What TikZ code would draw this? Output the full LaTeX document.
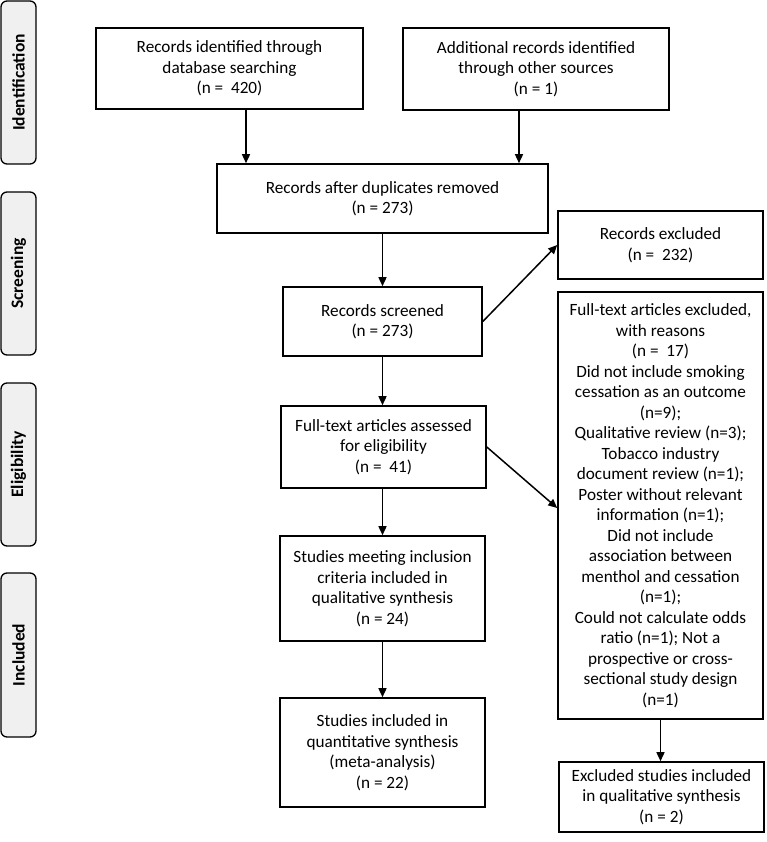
\documentclass[tikz,border=0pt]{standalone}
\usepackage{fontspec}
\setmainfont{Carlito}
\usetikzlibrary{arrows.meta}
\definecolor{sidefill}{HTML}{F0F0F0}
\begin{document}
\begin{tikzpicture}[x=1pt,y=-1pt,
  box/.style={draw=black,line width=1.6pt,inner sep=0pt,align=center,
    font=\fontsize{17.2}{20.5}\selectfont},
  side/.style={draw=black,line width=1.3pt,fill=sidefill,rounded corners=6pt,
    inner sep=0pt,minimum width=35pt},
  sidetext/.style={rotate=90,font=\fontsize{17.5}{19}\selectfont\bfseries},
  arr/.style={line width=1.5pt,-{Triangle[width=8pt,length=9pt]}}]
\useasboundingbox (0,0) rectangle (766,842);
% phase labels
\node[side,minimum height=163pt] (sid) at (18.5,82.5) {};
\node[sidetext] (tid) at (sid.center) {Identification};
\node[side,minimum height=163pt] (ssc) at (18.5,273.5) {};
\node[sidetext] (tsc) at (ssc.center) {Screening};
\node[side,minimum height=163pt] (sel) at (18.5,464.5) {};
\node[sidetext] (tel) at (sel.center) {Eligibility};
\node[side,minimum height=164pt] (sin) at (18.5,655) {};
\node[sidetext] (tin) at (sin.center) {Included};
% boxes
\node[box,minimum width=267pt,minimum height=81pt] (b1) at (229.5,68.5)
  {Records identified through\\database searching\\(n =~~420)};
\node[box,minimum width=266pt,minimum height=82pt] (b2) at (536,69)
  {Additional records identified\\through other sources\\(n = 1)};
\node[box,minimum width=331pt,minimum height=69pt] (b3) at (382.5,198.5)
  {Records after duplicates removed\\(n = 273)};
\node[box,minimum width=205pt,minimum height=68pt] (b4) at (660.5,245)
  {Records excluded\\(n =~~232)};
\node[box,minimum width=199pt,minimum height=69pt] (b5) at (382.5,321.5)
  {Records screened\\(n = 273)};
\node[box,minimum width=205pt,minimum height=427pt] (b6) at (660.5,505.5)
  {Full-text articles excluded,\\with reasons\\(n =~~17)\\Did not include smoking\\cessation as an outcome\\(n=9);\\Qualitative review (n=3);\\Tobacco industry\\document review (n=1);\\Poster without relevant\\information (n=1);\\Did not include\\association between\\menthol and cessation\\(n=1);\\Could not calculate odds\\ratio (n=1); Not a\\prospective or cross-\\sectional study design\\(n=1)};
\node[box,minimum width=205pt,minimum height=82pt] (b7) at (383.5,447)
  {Full-text articles assessed\\for eligibility\\(n =~~41)};
\node[box,minimum width=205pt,minimum height=105pt] (b8) at (382.5,588.5)
  {Studies meeting inclusion\\criteria included in\\qualitative synthesis\\(n = 24)};
\node[box,minimum width=205pt,minimum height=109pt] (b9) at (382.5,752.5)
  {Studies included in\\quantitative synthesis\\(meta-analysis)\\(n = 22)};
\node[box,minimum width=205pt,minimum height=70pt] (b10) at (661.5,797)
  {Excluded studies included\\in qualitative synthesis\\(n = 2)};
% connectors
\draw[arr] ([xshift=16.5pt]b1.south) -- ([xshift=16.5pt]b1.south |- b3.north);
\draw[arr] ([xshift=-17pt]b2.south) -- ([xshift=-17pt]b2.south |- b3.north);
\draw[arr] (b3.south) -- (b5.north);
\draw[arr] (b5.east) -- (b4.west);
\draw[arr] (b5.south) -- (b5.south |- b7.north);
\draw[arr] (b7.east) -- ([yshift=-2.5pt]b6.west);
\draw[arr] (b7.south -| b8.north) -- (b8.north);
\draw[arr] (b8.south) -- (b9.north);
\draw[arr] (b6.south) -- (b6.south |- b10.north);
\end{tikzpicture}
\end{document}
